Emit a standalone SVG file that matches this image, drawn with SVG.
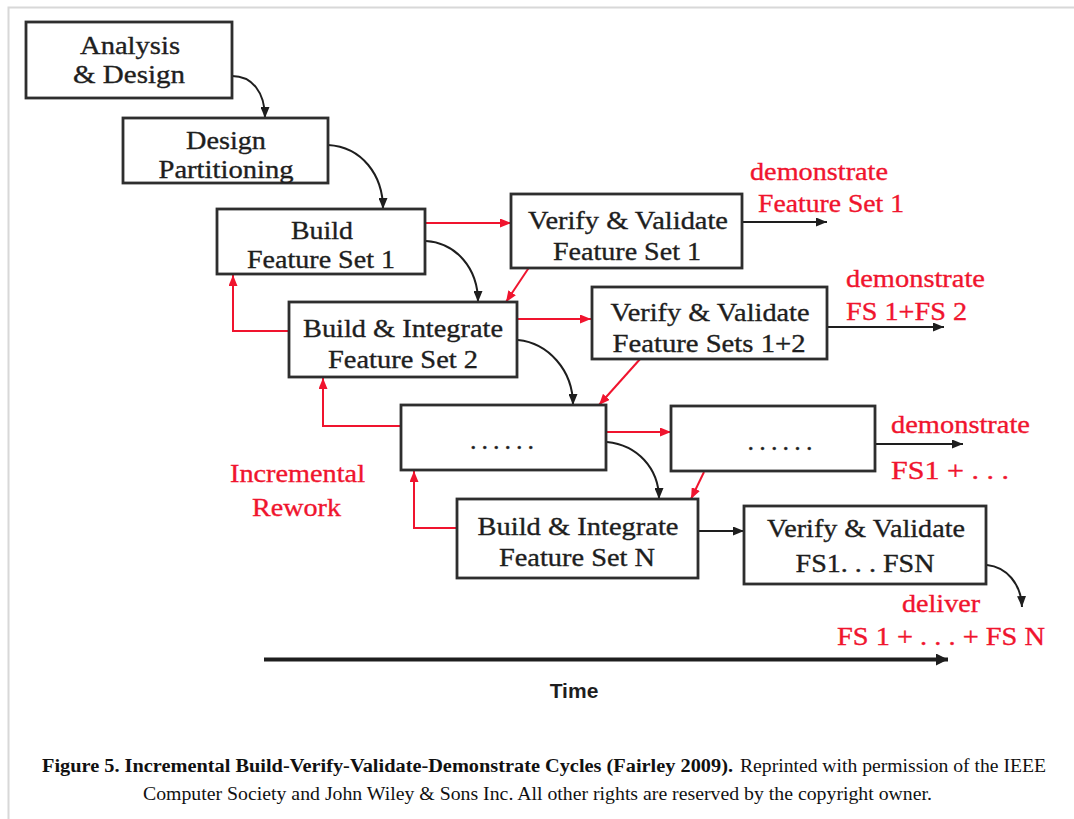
<svg xmlns="http://www.w3.org/2000/svg" width="1074" height="819" viewBox="0 0 1074 819">
<defs>
<style>
.box{fill:#fff;stroke:#2e2e2e;stroke-width:2.8}
.t{font-family:"Liberation Serif","Times New Roman",serif;font-size:26px;fill:#1e1e1e;text-anchor:middle;stroke:#1e1e1e;stroke-width:0.35}
.r{font-family:"Liberation Serif","Times New Roman",serif;font-size:26px;fill:#f0142e;stroke:#f0142e;stroke-width:0.35}
.bl{fill:none;stroke:#1e1e1e;stroke-width:2}
.rd{fill:none;stroke:#f0142e;stroke-width:2}
.cap{font-family:"Liberation Serif","Times New Roman",serif;font-size:18.5px;fill:#111}
</style>
<marker id="ab" markerUnits="userSpaceOnUse" markerWidth="11" markerHeight="9" refX="11" refY="4.5" orient="auto"><path d="M0,0 L11,4.5 L0,9 z" fill="#1e1e1e"/></marker>
<marker id="ar" markerUnits="userSpaceOnUse" markerWidth="11" markerHeight="9" refX="11" refY="4.5" orient="auto"><path d="M0,0 L11,4.5 L0,9 z" fill="#f0142e"/></marker>
<marker id="at" markerUnits="userSpaceOnUse" markerWidth="12" markerHeight="12" refX="12" refY="6" orient="auto"><path d="M0,0 L12,6 L0,12 z" fill="#1e1e1e"/></marker>
</defs>
<rect width="1074" height="819" fill="#fff"/>
<g id="frame" stroke="#d8d8d8" stroke-width="2" fill="none">
<path d="M8.5,819 L8.5,7.5 L1074,7.5"/>
</g>
<g id="connectors">
<path class="bl" d="M232,76 C252,76 265,92 265,118" marker-end="url(#ab)"/>
<path class="bl" d="M328,145 C362,147 383,175 383,209" marker-end="url(#ab)"/>
<path class="bl" d="M426,241 C456,243 478,268 478,302" marker-end="url(#ab)"/>
<path class="bl" d="M518,340 C548,343 573,370 573,405" marker-end="url(#ab)"/>
<path class="bl" d="M607,442 C637,445 659,468 659,499" marker-end="url(#ab)"/>
<path class="bl" d="M987,565 C1006,567 1021,583 1022,607" marker-end="url(#ab)"/>
<path class="rd" d="M426,223 L511,223" marker-end="url(#ar)"/>
<path class="rd" d="M518,319 L591,319" marker-end="url(#ar)"/>
<path class="rd" d="M607,432 L671,432" marker-end="url(#ar)"/>
<path class="rd" d="M530,266 L506,302" marker-end="url(#ar)"/>
<path class="rd" d="M641,358 L599,405" marker-end="url(#ar)"/>
<path class="rd" d="M704,472 L691,499" marker-end="url(#ar)"/>
<path class="rd" d="M289,331 L233,331 L233,275" marker-end="url(#ar)"/>
<path class="rd" d="M401,426 L323,426 L323,378" marker-end="url(#ar)"/>
<path class="rd" d="M457,528 L414,528 L414,471" marker-end="url(#ar)"/>
<path class="bl" d="M742,222 L827,222" marker-end="url(#ab)"/>
<path class="bl" d="M827,327 L944,327" marker-end="url(#ab)"/>
<path class="bl" d="M872,444 L963,444" marker-end="url(#ab)"/>
<path class="bl" d="M698,531 L744,531" marker-end="url(#ab)"/>
<path d="M264,659.5 L948,659.5" fill="none" stroke="#1e1e1e" stroke-width="4" marker-end="url(#at)"/>
</g>
<g id="n1"><rect class="box" x="26" y="22" width="206" height="76"/><text class="t" x="130" y="54" textLength="100" lengthAdjust="spacingAndGlyphs">Analysis</text><text class="t" x="129" y="83" textLength="112" lengthAdjust="spacingAndGlyphs">&amp; Design</text></g>
<g id="n2"><rect class="box" x="123" y="118" width="205" height="65"/><text class="t" x="226" y="149" textLength="80" lengthAdjust="spacingAndGlyphs">Design</text><text class="t" x="226" y="178" textLength="135" lengthAdjust="spacingAndGlyphs">Partitioning</text></g>
<g id="n3"><rect class="box" x="217" y="209" width="208" height="65"/><text class="t" x="322" y="239" textLength="62" lengthAdjust="spacingAndGlyphs">Build</text><text class="t" x="321" y="268" textLength="148" lengthAdjust="spacingAndGlyphs">Feature Set 1</text></g>
<g id="n4"><rect class="box" x="511" y="194" width="231" height="74"/><text class="t" x="628" y="229" textLength="200" lengthAdjust="spacingAndGlyphs">Verify &amp; Validate</text><text class="t" x="627" y="260" textLength="148" lengthAdjust="spacingAndGlyphs">Feature Set 1</text></g>
<g id="n5"><rect class="box" x="289" y="302" width="228" height="75"/><text class="t" x="403" y="337" textLength="200" lengthAdjust="spacingAndGlyphs">Build &amp; Integrate</text><text class="t" x="403" y="368" textLength="150" lengthAdjust="spacingAndGlyphs">Feature Set 2</text></g>
<g id="n6"><rect class="box" x="592" y="287" width="235" height="72"/><text class="t" x="710" y="321" textLength="199" lengthAdjust="spacingAndGlyphs">Verify &amp; Validate</text><text class="t" x="709" y="352" textLength="193" lengthAdjust="spacingAndGlyphs">Feature Sets 1+2</text></g>
<g id="n7"><rect class="box" x="401" y="405" width="205" height="65"/><text class="t" x="502" y="449" textLength="64" lengthAdjust="spacing">......</text></g>
<g id="n8"><rect class="box" x="671" y="406" width="204" height="65"/><text class="t" x="780" y="450" textLength="65" lengthAdjust="spacing">......</text></g>
<g id="n9"><rect class="box" x="457" y="499" width="241" height="79"/><text class="t" x="578" y="535" textLength="201" lengthAdjust="spacingAndGlyphs">Build &amp; Integrate</text><text class="t" x="577" y="566" textLength="156" lengthAdjust="spacingAndGlyphs">Feature Set N</text></g>
<g id="n10"><rect class="box" x="744" y="506" width="242" height="78"/><text class="t" x="866" y="537" textLength="198" lengthAdjust="spacingAndGlyphs">Verify &amp; Validate</text><text class="t" x="865" y="572" textLength="139" lengthAdjust="spacingAndGlyphs">FS1. . . FSN</text></g>
<g id="labels">
<text class="r" x="750" y="180" textLength="138" lengthAdjust="spacingAndGlyphs">demonstrate</text>
<text class="r" x="758" y="212" textLength="146" lengthAdjust="spacingAndGlyphs">Feature Set 1</text>
<text class="r" x="846" y="287" textLength="139" lengthAdjust="spacingAndGlyphs">demonstrate</text>
<text class="r" x="846" y="320" textLength="121" lengthAdjust="spacingAndGlyphs">FS 1+FS 2</text>
<text class="r" x="891" y="433" textLength="139" lengthAdjust="spacingAndGlyphs">demonstrate</text>
<text class="r" x="891" y="479" textLength="118" lengthAdjust="spacingAndGlyphs">FS1 +  . . .</text>
<text class="r" x="230" y="482" textLength="135" lengthAdjust="spacingAndGlyphs">Incremental</text>
<text class="r" x="252" y="516" textLength="89" lengthAdjust="spacingAndGlyphs">Rework</text>
<text class="r" x="902" y="612" textLength="78" lengthAdjust="spacingAndGlyphs">deliver</text>
<text class="r" x="837" y="645" textLength="208" lengthAdjust="spacingAndGlyphs">FS 1 + . . . + FS N</text>
<text x="574" y="698" font-family="Liberation Sans, Arial, sans-serif" font-size="21" font-weight="bold" fill="#1e1e1e" text-anchor="middle">Time</text>
</g>
<g id="caption">
<text class="cap" x="42" y="772" font-weight="bold" textLength="691" lengthAdjust="spacingAndGlyphs">Figure 5. Incremental Build-Verify-Validate-Demonstrate Cycles (Fairley 2009).</text>
<text class="cap" x="740" y="772" textLength="306" lengthAdjust="spacingAndGlyphs">Reprinted with permission of the IEEE</text>
<text class="cap" x="143" y="800" textLength="789" lengthAdjust="spacingAndGlyphs">Computer Society and John Wiley &amp; Sons Inc. All other rights are reserved by the copyright owner.</text>
</g>
</svg>
